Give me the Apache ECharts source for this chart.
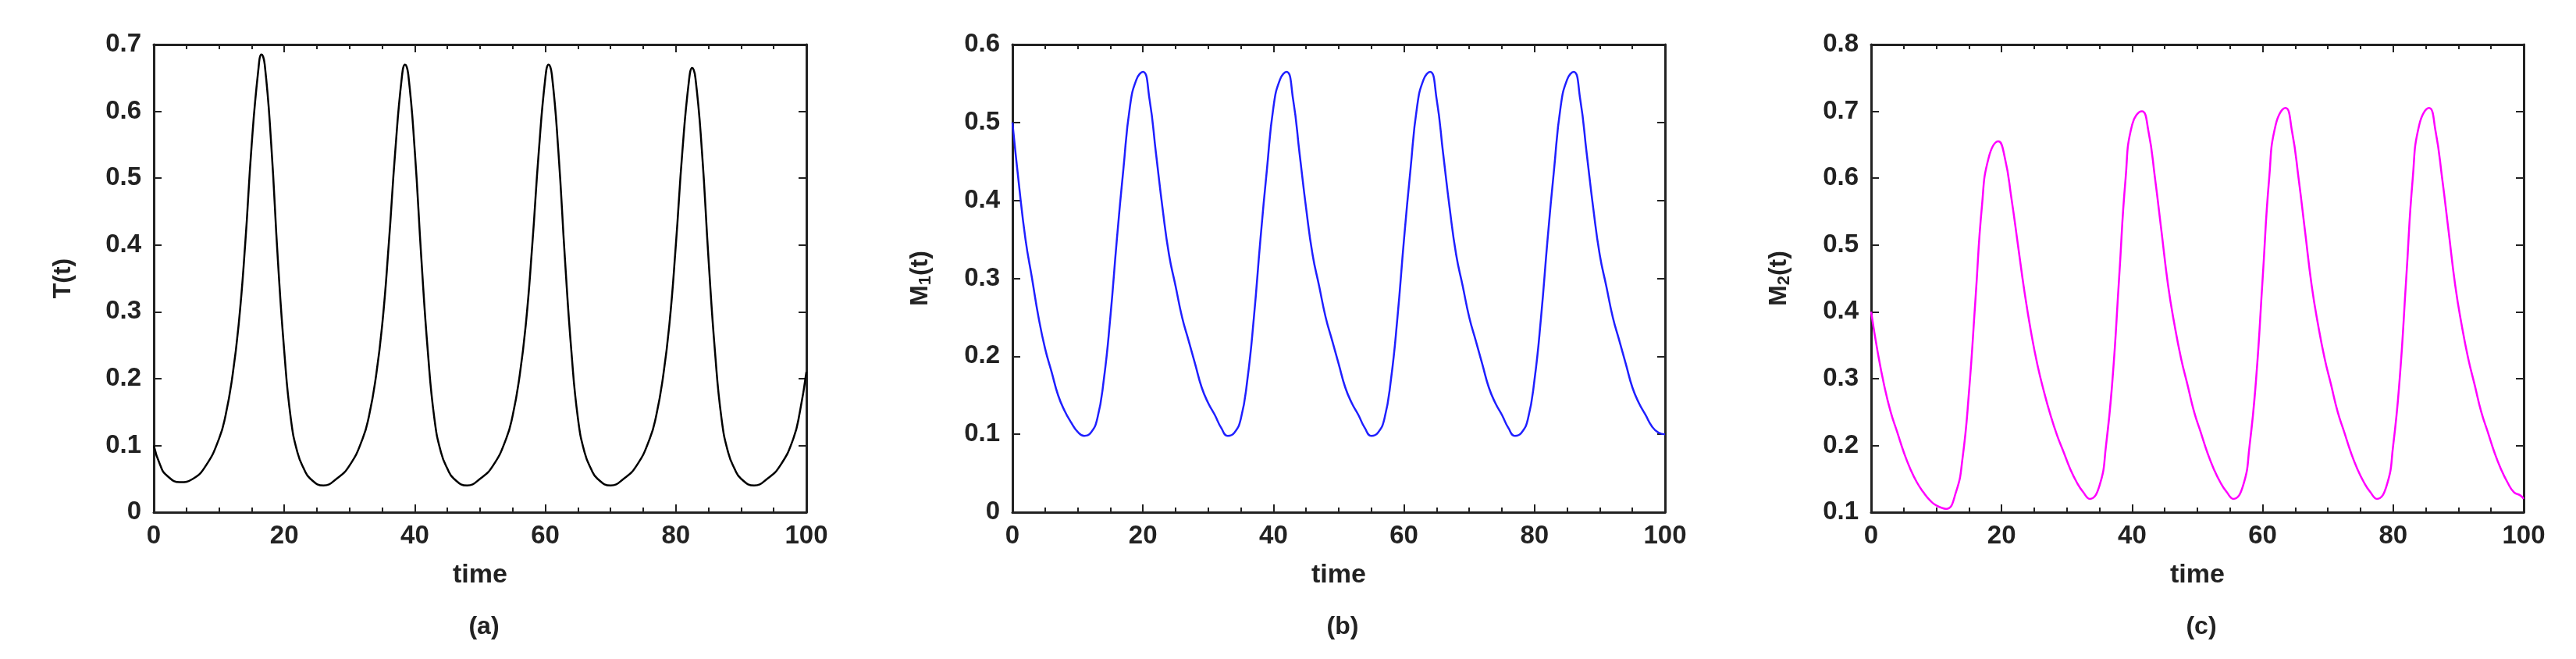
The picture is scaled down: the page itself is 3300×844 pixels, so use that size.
<!DOCTYPE html>
<html>
<head>
<meta charset="utf-8">
<script src="https://cdn.jsdelivr.net/npm/echarts@6/dist/echarts.min.js"></script>
<style>
html,body{margin:0;padding:0;background:#fff;}
#chart{width:3300px;height:844px;}
</style>
</head>
<body>
<div id="chart"></div>
<script>
/* data: [time, value] */
var dataT = [[0,0.1],[1,0.07],[2,0.055],[4,0.045],[6,0.05],[8,0.07],[10,0.11],[11,0.145],[12,0.2],[13,0.28],[14,0.4],[15,0.55],[16,0.66],[16.5,0.685],[17,0.67],[18,0.55],[19,0.38],[20,0.24],[21,0.14],[22,0.09],[23,0.065],[24,0.05],[26,0.04],[28,0.05],[30,0.07],[32,0.11],[33,0.145],[34,0.2],[35,0.28],[36,0.4],[37,0.54],[38,0.65],[38.5,0.67],[39,0.655],[40,0.54],[41,0.38],[42,0.24],[43,0.14],[44,0.09],[45,0.065],[46,0.05],[48,0.04],[50,0.05],[52,0.07],[54,0.11],[55,0.145],[56,0.2],[57,0.28],[58,0.4],[59,0.54],[60,0.65],[60.5,0.67],[61,0.655],[62,0.54],[63,0.38],[64,0.24],[65,0.14],[66,0.09],[67,0.065],[68,0.05],[70,0.04],[72,0.05],[74,0.07],[76,0.11],[77,0.145],[78,0.2],[79,0.28],[80,0.4],[81,0.54],[82,0.645],[82.5,0.665],[83,0.65],[84,0.54],[85,0.38],[86,0.24],[87,0.14],[88,0.09],[89,0.065],[90,0.05],[92,0.04],[94,0.05],[96,0.07],[98,0.11],[99,0.15],[100,0.21]];

var dataM1 = [[0,0.5],[1,0.42],[2,0.35],[3,0.3],[4,0.25],[5,0.21],[6,0.18],[7,0.15],[8,0.13],[9,0.115],[10,0.103],[11,0.098],[12,0.102],[13,0.12],[14,0.17],[15,0.25],[16,0.35],[17,0.44],[18,0.52],[19,0.555],[20,0.565],[21,0.53],[22,0.46],[23,0.39],[24,0.33],[25,0.29],[26,0.25],[27,0.22],[28,0.19],[29,0.16],[30,0.14],[31,0.125],[32,0.108],[33,0.098],[34,0.102],[35,0.12],[36,0.17],[37,0.25],[38,0.35],[39,0.44],[40,0.52],[41,0.555],[42,0.565],[43,0.53],[44,0.46],[45,0.39],[46,0.33],[47,0.29],[48,0.25],[49,0.22],[50,0.19],[51,0.16],[52,0.14],[53,0.125],[54,0.108],[55,0.098],[56,0.102],[57,0.12],[58,0.17],[59,0.25],[60,0.35],[61,0.44],[62,0.52],[63,0.555],[64,0.565],[65,0.53],[66,0.46],[67,0.39],[68,0.33],[69,0.29],[70,0.25],[71,0.22],[72,0.19],[73,0.16],[74,0.14],[75,0.125],[76,0.108],[77,0.098],[78,0.102],[79,0.12],[80,0.17],[81,0.25],[82,0.35],[83,0.44],[84,0.52],[85,0.555],[86,0.565],[87,0.53],[88,0.46],[89,0.39],[90,0.33],[91,0.29],[92,0.25],[93,0.22],[94,0.19],[95,0.16],[96,0.14],[97,0.125],[98,0.11],[99,0.102],[100,0.1]];

var dataM2 = [[0,0.4],[1,0.34],[2,0.29],[3,0.25],[4,0.22],[5,0.19],[6,0.165],[7,0.145],[8,0.13],[9,0.118],[10,0.11],[11.5,0.105],[13,0.13],[14,0.18],[15,0.28],[16,0.42],[17,0.56],[18,0.63],[19.5,0.655],[20.5,0.63],[21.5,0.57],[22.5,0.5],[23.5,0.43],[24.5,0.37],[25.5,0.32],[26.5,0.28],[27.5,0.245],[28.5,0.215],[29.5,0.19],[30.5,0.165],[31.5,0.145],[32.5,0.13],[33.5,0.12],[35,0.14],[36,0.2],[37,0.3],[38,0.45],[39,0.6],[40,0.68],[41.5,0.7],[42.5,0.67],[43.5,0.6],[44.5,0.52],[45.5,0.44],[46.5,0.38],[47.5,0.33],[48.5,0.29],[49.5,0.25],[50.5,0.22],[51.5,0.19],[52.5,0.165],[53.5,0.145],[54.5,0.13],[55.5,0.12],[57,0.14],[58,0.2],[59,0.3],[60,0.45],[61,0.6],[62,0.68],[63.5,0.705],[64.5,0.67],[65.5,0.6],[66.5,0.52],[67.5,0.44],[68.5,0.38],[69.5,0.33],[70.5,0.29],[71.5,0.25],[72.5,0.22],[73.5,0.19],[74.5,0.165],[75.5,0.145],[76.5,0.13],[77.5,0.12],[79,0.14],[80,0.2],[81,0.3],[82,0.45],[83,0.6],[84,0.68],[85.5,0.705],[86.5,0.67],[87.5,0.6],[88.5,0.52],[89.5,0.44],[90.5,0.38],[91.5,0.33],[92.5,0.29],[93.5,0.25],[94.5,0.22],[95.5,0.19],[96.5,0.165],[97.5,0.145],[98.5,0.13],[99.5,0.125],[100,0.12]];

var panelNames = ['T(t)', '{m|M}{s|1}{m|(t)}', '{m|M}{s|2}{m|(t)}'];
var panelTags = ['(a)', '(b)', '(c)'];
var yRanges = [[0, 0.7], [0, 0.6], [0.1, 0.8]];
var lineColors = ['#000000', '#1f1fff', '#ff00ff'];
var allData = [dataT, dataM1, dataM2];

var gridLeft = [197, 1297, 2397];
var gridWidth = 836;
var font = 'Liberation Sans, Arial, sans-serif';
var axisCol = '#222';

var grids = [], xAxes = [], yAxes = [], series = [], titles = [];
for (var i = 0; i < 3; i++) {
    grids.push({left: gridLeft[i], top: 57, width: gridWidth, height: 599});
    var tick = {inside: true, length: 10, lineStyle: {color: axisCol, width: 2}};
    var minor = {show: true, splitNumber: 4, length: 6, lineStyle: {color: axisCol, width: 2}};
    var line = {show: true, onZero: false, lineStyle: {color: axisCol, width: 3}};
    xAxes.push({
        gridIndex: i, type: 'value', min: 0, max: 100, interval: 20,
        name: 'time', nameLocation: 'middle', nameGap: 64,
        nameTextStyle: {fontSize: 34, fontWeight: 'bold', color: '#222', fontFamily: font},
        axisLine: line, axisTick: tick, minorTick: minor,
        splitLine: {show: false},
        axisLabel: {fontSize: 33, fontWeight: 'bold', color: '#222', fontFamily: font, margin: 14}
    });
    xAxes.push({
        gridIndex: i, type: 'value', position: 'top', min: 0, max: 100, interval: 20,
        axisLine: line, axisTick: tick, minorTick: minor,
        axisLabel: {show: false}, splitLine: {show: false}
    });
    yAxes.push({
        gridIndex: i, type: 'value', min: yRanges[i][0], max: yRanges[i][1], interval: 0.1,
        name: panelNames[i], nameLocation: 'middle', nameGap: 100, nameRotate: 90,
        nameTextStyle: {
            fontSize: 32, fontWeight: 'bold', color: '#222', fontFamily: font,
            rich: {
                m: {fontSize: 32, fontWeight: 'bold', color: '#222', fontFamily: font},
                s: {fontSize: 22, fontWeight: 'bold', color: '#222', fontFamily: font, padding: [14, 0, 0, 0]}
            }
        },
        axisLine: line, axisTick: tick,
        splitLine: {show: false},
        axisLabel: {fontSize: 33, fontWeight: 'bold', color: '#222', fontFamily: font, margin: 16,
            formatter: function (v) { return v === 0 ? '0' : v.toFixed(1); }}
    });
    yAxes.push({
        gridIndex: i, type: 'value', position: 'right', min: yRanges[i][0], max: yRanges[i][1], interval: 0.1,
        axisLine: line, axisTick: {show: true, inside: true, length: 10, lineStyle: {color: axisCol, width: 2}},
        axisLabel: {show: false}, splitLine: {show: false}
    });
    series.push({
        type: 'line', xAxisIndex: i * 2, yAxisIndex: i * 2,
        data: allData[i], smooth: 0.5, showSymbol: false,
        lineStyle: {color: lineColors[i], width: 2.5}
    });
    titles.push({
        text: panelTags[i], left: gridLeft[i] + gridWidth / 2, top: 782, textAlign: 'center',
        textStyle: {fontSize: 32, fontWeight: 'bold', color: '#222', fontFamily: font}
    });
}

var chart = echarts.init(document.getElementById('chart'));
chart.setOption({
    backgroundColor: '#fff',
    animation: false,
    title: titles,
    grid: grids,
    xAxis: xAxes,
    yAxis: yAxes,
    series: series
});
</script>
</body>
</html>
